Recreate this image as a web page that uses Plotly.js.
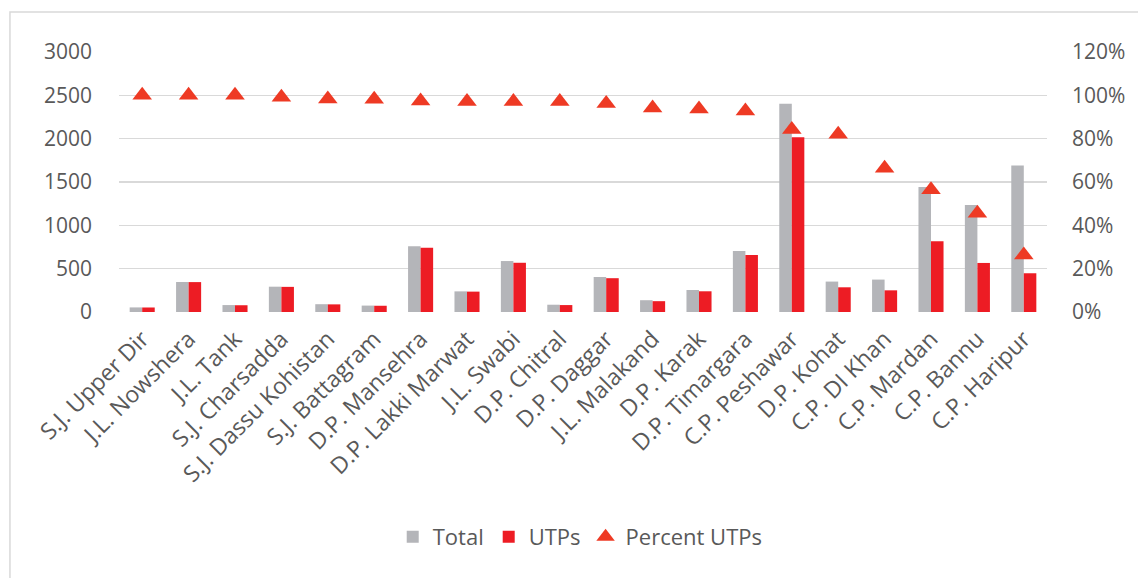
<!DOCTYPE html>
<html>
<head>
<meta charset="utf-8">
<script src="https://cdn.plot.ly/plotly-3.0.1.min.js"></script>
<style>
  html, body { margin: 0; padding: 0; background: #ffffff; }
  #chart { width: 1138px; height: 578px; }
</style>
</head>
<body>
<div id="chart"></div>
<script>
// Categories (x axis)
const stations = [
    'S.J. Upper Dir', 'J.L. Nowshera', 'J.L. Tank', 'S.J. Charsadda', 'S.J. Dassu Kohistan',
    'S.J. Battagram', 'D.P. Mansehra', 'D.P. Lakki Marwat', 'J.L. Swabi', 'D.P. Chitral',
    'D.P. Daggar', 'J.L. Malakand', 'D.P. Karak', 'D.P. Timargara', 'C.P. Peshawar',
    'D.P. Kohat', 'C.P. DI Khan', 'C.P. Mardan', 'C.P. Bannu', 'C.P. Haripur'
];

// Total prisoners per station
const totalVals = [53, 346, 80, 292, 90, 74, 760, 238, 588, 84, 404, 136, 254, 704, 2404, 351, 374, 1442, 1235, 1689];

// Under trial prisoners per station
const utpVals = [52, 345, 78, 290, 88, 72, 742, 235, 568, 80, 390, 125, 239, 658, 2016, 285, 250, 816, 566, 447];

// Percent UTPs (right axis)
const pctVals = [1.0, 1.0, 1.0, 0.991, 0.983, 0.982, 0.974, 0.971, 0.971, 0.971, 0.962, 0.942, 0.937, 0.928,
    0.842, 0.82, 0.663, 0.564, 0.456, 0.263];

const txtColor = '#595959';
const fontFam = '"Open Sans", "Noto Sans", sans-serif';

let data = [{ // Total bars
    x: stations,
    y: totalVals,
    name: 'Total',
    type: 'bar',
    marker: { color: '#b4b5b9' },
}, { // UTP bars
    x: stations,
    y: utpVals,
    name: 'UTPs',
    type: 'bar',
    marker: { color: '#ed1c24' },
}, { // Percent markers
    x: stations,
    y: pctVals,
    name: 'Percent UTPs',
    type: 'scatter',
    mode: 'markers',
    yaxis: 'y2',
    marker: { symbol: 'triangle-up', size: 17, color: '#ee3a24' },
}];

let layout = {
    width: 1138,
    height: 578,
    margin: { l: 119, r: 91, t: 52, b: 266, pad: 0 },
    font: { family: fontFam, size: 21, color: txtColor },
    barmode: 'group',
    bargap: 0.46,
    bargroupgap: 0,
    xaxis: {
        type: 'category',
        range: [-0.5, stations.length - 0.5],
        tickangle: -45,
        showgrid: false,
        showline: false,
        ticks: '',
        ticklabelstandoff: 8,
        tickfont: { family: fontFam, size: 23, color: txtColor },
    },
    yaxis: {
        range: [0, 3000],
        dtick: 500,
        showgrid: true,
        gridcolor: '#d9d9d9',
        gridwidth: 1.3,
        zeroline: false,
        showline: false,
        ticks: '',
        ticklabelstandoff: 26,
        tickfont: { family: fontFam, size: 21, color: txtColor },
    },
    yaxis2: {
        overlaying: 'y',
        side: 'right',
        range: [0, 1.2],
        dtick: 0.2,
        tickformat: '.0%',
        showgrid: false,
        zeroline: false,
        showline: false,
        ticks: '',
        ticklabelstandoff: 24,
        tickfont: { family: fontFam, size: 21, color: txtColor },
    },
    legend: {
        orientation: 'h',
        x: 0.497,
        xanchor: 'center',
        y: -0.865,
        yanchor: 'middle',
        font: { family: fontFam, size: 22, color: txtColor },
        traceorder: 'normal',
    },
    shapes: [{ // chart border
        type: 'rect',
        xref: 'paper', yref: 'paper',
        x0: -0.1175, x1: 1.2, y0: -1.5, y1: 1.154,
        line: { color: '#d9d9d9', width: 1.5 },
        layer: 'below',
    }],
    paper_bgcolor: '#ffffff',
    plot_bgcolor: '#ffffff',
    showlegend: true,
};

let config = { staticPlot: true, displayModeBar: false };

Plotly.newPlot('chart', data, layout, config);
</script>
</body>
</html>
